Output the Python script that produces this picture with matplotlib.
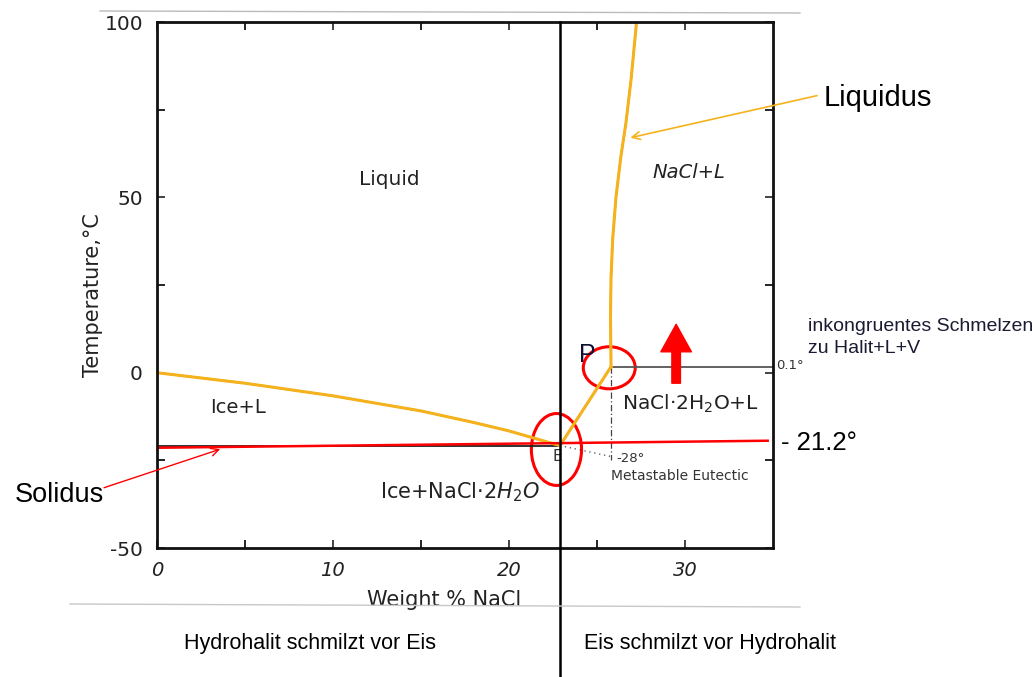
import matplotlib.pyplot as plt
import matplotlib.transforms as mtransforms
from matplotlib.patches import Ellipse
from matplotlib.lines import Line2D

plt.rcParams['font.family'] = ['DejaVu Sans']
plt.rcParams['axes.unicode_minus'] = False

# liquidus branches (wt% NaCl, deg C)
ice_x = [0, 5, 10, 15, 18, 20, 22.9]
ice_t = [0, -3.0, -6.6, -10.9, -14.2, -16.6, -20.8]
hh_x = [22.9, 25.8]
hh_t = [-20.8, 1.7]
halite_x = [25.8, 25.77, 25.8, 25.9, 26.08, 26.35, 26.65, 26.95, 27.25]
halite_t = [1.7, 15.7, 27.1, 38.5, 49.9, 61.3, 71.3, 84.1, 100]

# eutectic / peritectic / metastable
eut_x = [0, 22.9]
eut_t = [-20.8, -20.8]
perit_x = [25.8, 35]
perit_t = [1.7, 1.7]
meta_x = [22.9, 25.8]
meta_t = [-20.8, -23.9]
perit_drop_t = [1.7, -24.8]
# red solidus overlay drawn on the scan
solidus_x = [0.1, 34.7]
solidus_t = [-21.4, -19.4]

divider_x = 22.9
P_pt = (25.7, 1.4)
E_pt = (22.7, -21.9)

orange = '#f5b21c'
red = '#ff0000'
annot_font = ['Liberation Sans', 'DejaVu Sans']

fig = plt.figure(figsize=(10.32, 6.77), dpi=100)
ax = fig.add_axes([0.152, 0.1905, 0.597, 0.777])

# original black curves
ax.plot(ice_x, ice_t, color='#333333', lw=1.3)
ax.plot(hh_x, hh_t, color='#333333', lw=1.3)
ax.plot(halite_x, halite_t, color='#333333', lw=1.3)
ax.plot(eut_x, eut_t, color='#222222', lw=1.3)
ax.plot(perit_x, perit_t, color='#555555', lw=1.3)
ax.plot([hh_x[1], hh_x[1]], perit_drop_t, color='#444444', lw=0.9, ls=(0, (5, 2, 1, 2)))
ax.plot(meta_x, meta_t, color='#444444', lw=0.9, ls=(0, (1, 3)))

# coloured overlays
ax.plot(ice_x, ice_t, color=orange, lw=2.2)
ax.plot(hh_x, hh_t, color=orange, lw=2.2)
ax.plot(halite_x, halite_t, color=orange, lw=2.2)
ax.plot(solidus_x, solidus_t, color=red, lw=1.8, clip_on=False)

ax.set_xlim(0, 35)
ax.set_ylim(-50, 100)
ax.set_xticks([0, 10, 20, 30])
ax.set_xticks([5, 15, 25], minor=True)
ax.set_yticks([-50, 0, 50, 100])
ax.set_yticks([-25, 25, 75], minor=True)
ax.set_xticklabels(['0', '10', '20', '30'], fontstyle='italic')
ax.tick_params(which='both', direction='in', top=True, right=True, length=6, width=1.2)
ax.tick_params(axis='x', labelsize=14, pad=9, colors='#222222')
ax.tick_params(axis='y', labelsize=14.5, pad=10, colors='#222222')
for s in ax.spines.values():
    s.set_linewidth(2.0)
    s.set_color('#111111')

ax.set_xlabel('Weight % NaCl', fontsize=15, color='#222222')
ax.set_ylabel('Temperature,°C', fontsize=15, color='#222222')
ax.xaxis.set_label_coords(0.466, -0.08)
ax.yaxis.set_label_coords(-0.088, 0.48)

# phase field labels
ax.text(13.2, 55, 'Liquid', fontsize=14.5, ha='center', va='center', color='#222222')
ax.text(30.2, 57, 'NaCl+L', fontsize=14, fontstyle='italic', ha='center', va='center', color='#222222')
ax.text(4.6, -10, 'Ice+L', fontsize=14, ha='center', va='center', color='#222222')
ax.text(17.2, -34.2, 'Ice+NaCl·2$H_2O$', fontsize=15, ha='center', va='center', color='#222222')
ax.text(30.3, -9, 'NaCl·2H$_2$O+L', fontsize=14.5, ha='center', va='center', color='#222222')
ax.text(22.75, -23.8, 'E', fontsize=11, ha='center', va='center', color='#333333')
ax.text(26.1, -24.6, '-28°', fontsize=9.5, ha='left', va='center', color='#333333')
ax.text(25.8, -29.6, 'Metastable Eutectic', fontsize=10, ha='left', va='center', color='#333333')
ax.text(35.2, 2.0, '0.1°', fontsize=9.5, ha='left', va='center', color='#333333', clip_on=False)

# vertical divider through the eutectic, down to the bottom of the figure
trans = mtransforms.blended_transform_factory(ax.transData, fig.transFigure)
fig.add_artist(Line2D([divider_x, divider_x], [0, 0.9675], transform=trans, color='black', lw=1.8))

# red markings
ax.add_patch(Ellipse(P_pt, 2.95, 12, fill=False, color=red, lw=2.2, clip_on=False))
ax.add_patch(Ellipse(E_pt, 2.85, 20.5, fill=False, color=red, lw=2.2, clip_on=False))
ax.annotate('', xy=(29.5, 13.8), xytext=(29.5, -3.0),
            arrowprops=dict(arrowstyle='simple,head_length=0.9,head_width=1.0,tail_width=0.28',
                            color=red, mutation_scale=22, shrinkA=0, shrinkB=0))

ax.text(24.45, 5.0, 'P', fontsize=18, ha='center', va='center', family=annot_font, color='#111133')

ax.annotate('', xy=(26.9, 67.0), xytext=(37.5, 79.0), annotation_clip=False,
            arrowprops=dict(arrowstyle='->', color=orange, lw=1.2, shrinkA=0, shrinkB=0,
                            mutation_scale=14))
ax.text(37.9, 78.3, 'Liquidus', fontsize=21, family=annot_font, ha='left', va='center',
        clip_on=False)
ax.annotate('', xy=(3.6, -21.8), xytext=(-3.0, -32.8), annotation_clip=False,
            arrowprops=dict(arrowstyle='->', color=red, lw=1.0, shrinkA=0, shrinkB=0,
                            mutation_scale=14))
ax.text(-3.0, -34.8, 'Solidus', fontsize=19.5, family=annot_font, ha='right', va='center',
        clip_on=False)
ax.text(35.45, -20.0, '- 21.2°', fontsize=18.5, family=annot_font, ha='left', va='center',
        clip_on=False)
ax.text(37.0, 10.0, 'inkongruentes Schmelzen\nzu Halit+L+V', fontsize=14, family=annot_font,
        ha='left', va='center', linespacing=1.35, color='#1a1a33', clip_on=False)

fig.text(310 / 1032, 1 - 643 / 677, 'Hydrohalit schmilzt vor Eis', fontsize=15.5,
         family=annot_font, ha='center', va='center')
fig.text(710 / 1032, 1 - 643 / 677, 'Eis schmilzt vor Hydrohalit', fontsize=15.5,
         family=annot_font, ha='center', va='center')

# faint scan edges
fig.add_artist(Line2D([100 / 1032, 800 / 1032], [1 - 11 / 677, 1 - 13 / 677],
                      transform=fig.transFigure, color='#bbbbbb', lw=1.0))
fig.add_artist(Line2D([70 / 1032, 800 / 1032], [1 - 604 / 677, 1 - 607 / 677],
                      transform=fig.transFigure, color='#c8c8c8', lw=1.0))

fig.savefig('out.png', dpi=100)
